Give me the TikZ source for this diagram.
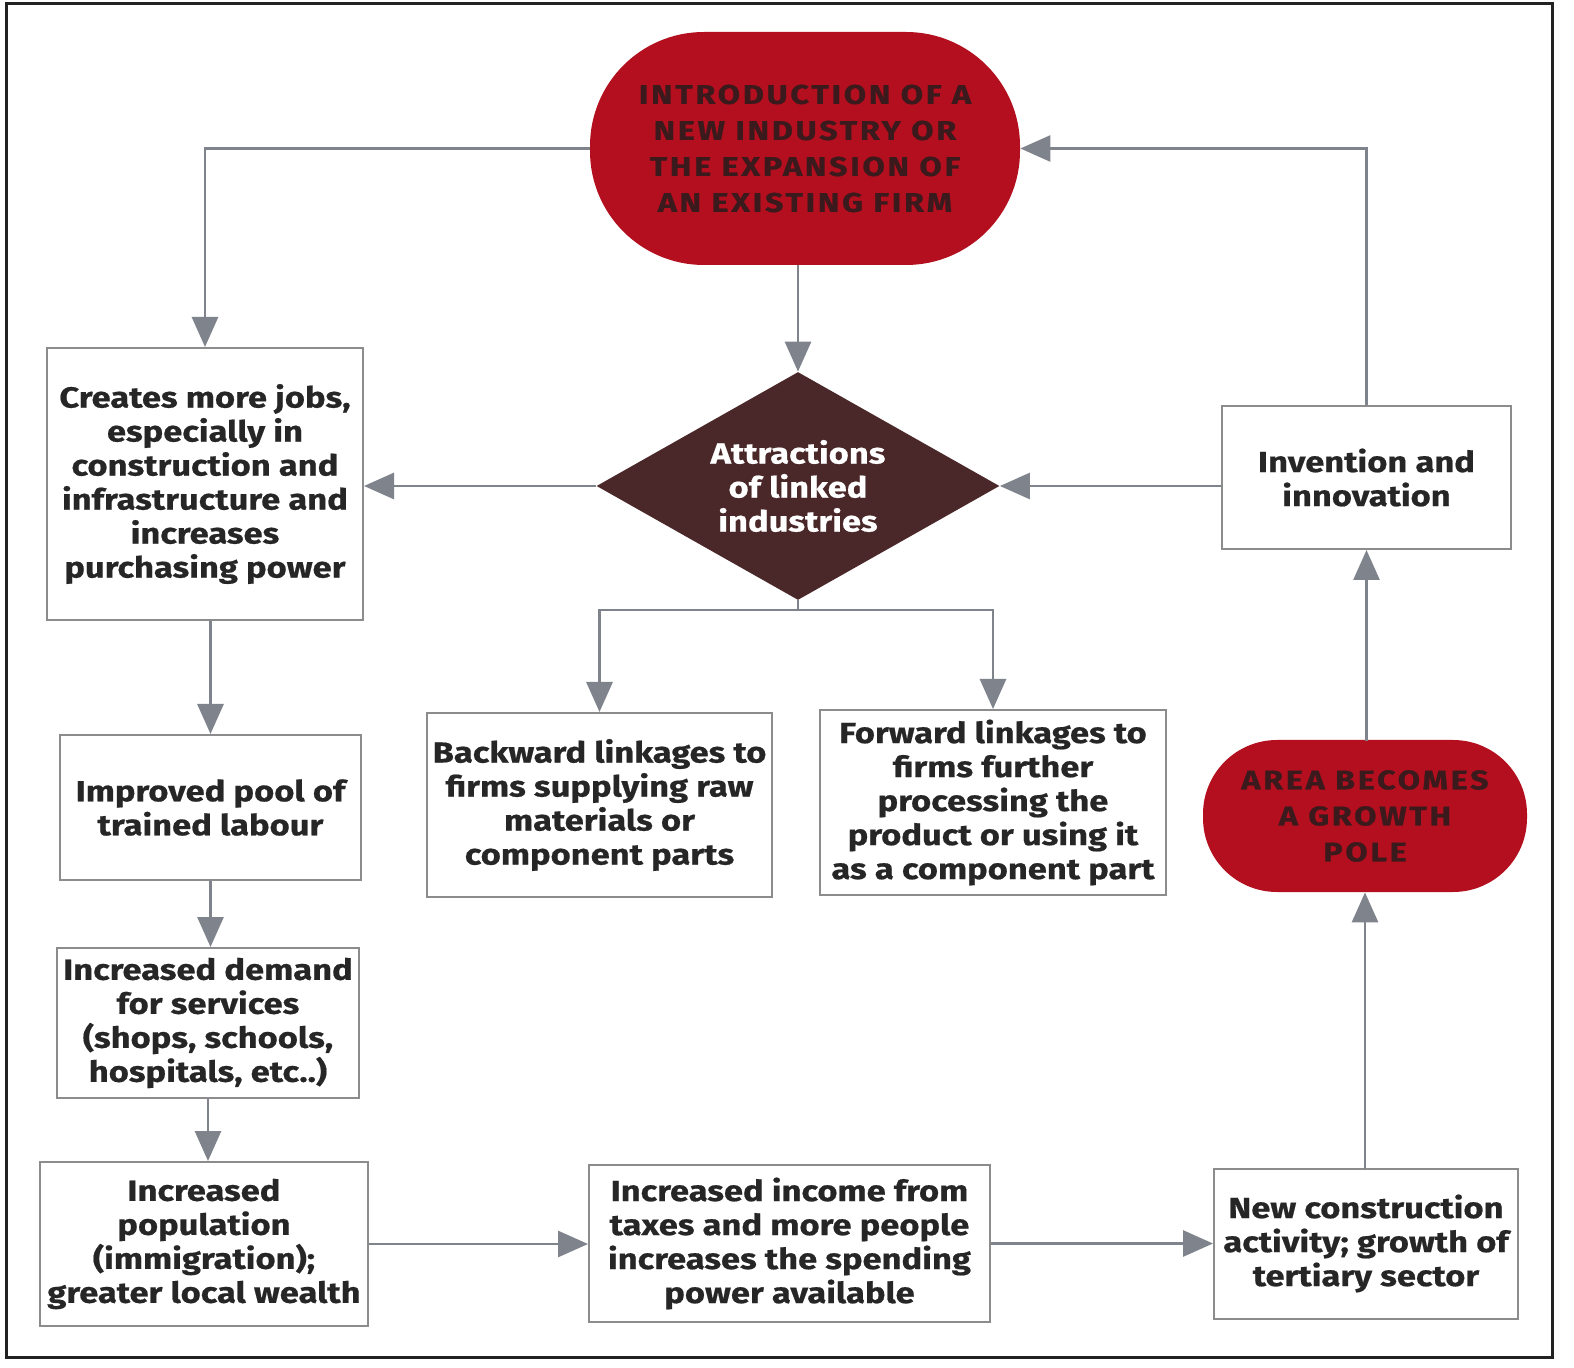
\documentclass[tikz,border=0pt]{standalone}
\usepackage{fontspec}
\setmainfont{Fira Sans}
\newfontfamily\boxfam{Fira Sans}[FakeStretch=1.19, FakeBold=0.6]
\newfontfamily\capfam{Fira Sans}[FakeStretch=1.2, FakeBold=0.8, LetterSpace=10]
\usetikzlibrary{arrows.meta,shapes.geometric}
\definecolor{boxgray}{HTML}{8C8C8C}
\definecolor{arrgray}{HTML}{7E838C}
\definecolor{txtdark}{HTML}{262626}
\definecolor{polered}{HTML}{B30F1F}
\definecolor{redtxt}{HTML}{3A1A1C}
\definecolor{diamondfill}{HTML}{4A2728}
\definecolor{framecol}{HTML}{222222}
\tikzset{
  box/.style={draw=boxgray, line width=1pt, fill=white, align=center, text=txtdark,
    inner sep=2pt, font={\boxfam\fontsize{14.5}{17}\selectfont\bfseries}},
  redpill/.style={fill=polered, align=center, text=redtxt, inner sep=2pt,
    font={\capfam\fontsize{13.5}{18}\selectfont\bfseries}},
  arr/.style={draw=arrgray, line width=1.4pt, -{Triangle[width=13pt,length=15pt]}},
}
\begin{document}
\begin{tikzpicture}[x=0.5pt,y=-0.5pt]
\useasboundingbox (0,0) rectangle (1574,1368);
\fill[white] (0,0) rectangle (1574,1368);
\draw[framecol, line width=1.5pt] (6,4) rectangle (1552,1357);

% nodes
\node[redpill, minimum width=215pt, minimum height=116.5pt, rounded corners=57pt] (top) at (805,148.5)
  {INTRODUCTION OF A\\NEW INDUSTRY OR\\THE EXPANSION OF\\AN EXISTING FIRM};
\node[diamond, fill=diamondfill, inner sep=0pt,
  minimum width=201.5pt, minimum height=114pt,
  label={[text=white, align=center, font={\boxfam\fontsize{14.5}{17}\selectfont\bfseries}]center:{Attractions\\of linked\\industries}}] (dia) at (798,486) {};
\node[box, minimum width=158pt, minimum height=136pt] (jobs) at (205,484)
  {Creates more jobs,\\especially in\\construction and\\infrastructure and\\increases\\purchasing power};
\node[box, minimum width=150.5pt, minimum height=72.5pt] (labour) at (210.5,807.5)
  {Improved pool of\\trained labour};
\node[box, minimum width=151pt, minimum height=75pt] (demand) at (208,1023)
  {Increased demand\\for services\\(shops, schools,\\hospitals, etc..)};
\node[box, minimum width=164pt, minimum height=82pt] (pop) at (204,1244)
  {Increased\\population\\(immigration);\\greater local wealth};
\node[box, minimum width=200.5pt, minimum height=78.5pt] (income) at (789.5,1243.5)
  {Increased income from\\taxes and more people\\increases the spending\\power available};
\node[box, minimum width=152pt, minimum height=75pt] (newcon) at (1366,1243.5)
  {New construction\\activity; growth of\\tertiary sector};
\node[redpill, minimum width=162pt, minimum height=76pt, rounded corners=37pt] (pole) at (1365,816)
  {AREA BECOMES\\A GROWTH\\POLE};
\node[box, minimum width=144.5pt, minimum height=71.5pt] (invent) at (1366.5,477.5)
  {Invention and\\innovation};
\node[box, minimum width=172.5pt, minimum height=92pt] (back) at (599.5,805)
  {Backward linkages to\\firms supplying raw\\materials or\\component parts};
\node[box, minimum width=173pt, minimum height=92.5pt] (fwd) at (993,802.5)
  {Forward linkages to\\firms further\\processing the\\product or using it\\as a component part};

\coordinate (split) at (798,610);

% connectors
\draw[arr] (top.west) -| (jobs.north);
\draw[arr] (top.south -| dia.north) -- (dia.north);
\draw[arr] (dia.west) -- (dia.west -| jobs.east);
\draw[arr] (invent.west |- dia.east) -- (dia.east);
\draw[arr] (invent.north) |- (top.east);
\draw[draw=arrgray, line width=1.4pt] (dia.south) -- (split);
\draw[arr] (split) -| (back.north);
\draw[arr] (split) -| (fwd.north);
\draw[arr] (jobs.south -| labour.north) -- (labour.north);
\draw[arr] (labour.south) -- (labour.south |- demand.north);
\draw[arr] (demand.south) -- (demand.south |- pop.north);
\draw[arr] (pop.east) -- (pop.east -| income.west);
\draw[arr] (income.east) -- (income.east -| newcon.west);
\draw[arr] (newcon.north) -- (newcon.north -| pole.south) -- (pole.south);
\draw[arr] (pole.north) -- (pole.north -| invent.south) -- (invent.south);
\end{tikzpicture}
\end{document}
